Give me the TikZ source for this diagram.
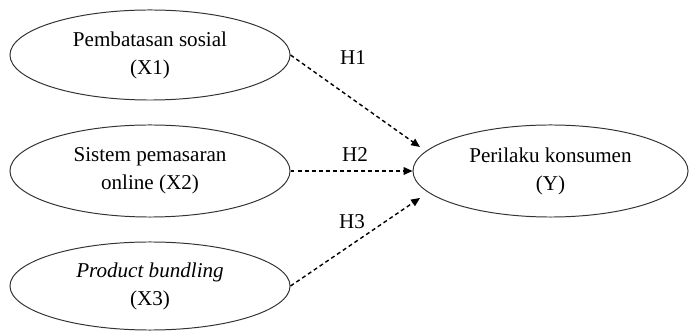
\documentclass[tikz,border=0pt]{standalone}
\usepackage{fontspec}
\setmainfont{Liberation Serif}
\usetikzlibrary{arrows.meta,positioning,shapes.geometric}

\begin{document}
\begin{tikzpicture}[
        x=0.025cm, y=-0.025cm,
        font=\fontsize{15}{20}\selectfont,
        var/.style={ellipse, draw=black!80, line width=0.7pt, minimum width=7cm, minimum height=2.25cm, align=center, inner sep=0pt},
        arr/.style={-{Triangle[length=2.2mm, width=1.9mm]}, line width=1pt, dash pattern=on 2.8pt off 2.2pt},
        lbl/.style={inner sep=1pt},
    ]
    \useasboundingbox (0,0) rectangle (689,333);
    \node[var] (x1) at (150,55) {Pembatasan sosial\\(X1)};
    \node[var, minimum height=2.3cm] (x2) at (150,171) {Sistem pemasaran\\online (X2)};
    \node[var, minimum height=2.2cm] (x3) at (150,286) {\textit{Product bundling}\\(X3)};
    \node[var, minimum width=6.875cm, minimum height=2.3cm] (y) at (550.5,171) {Perilaku konsumen\\(Y)};

    \coordinate (t1) at (420,147);
    \coordinate (t3) at (420,198);

    \node[lbl] (h1) at (353,58) {H1};
    \node[lbl] (h2) at (355,155) {H2};
    \node[lbl] (h3) at (352,222) {H3};

    \draw[arr] (x1.east) -- (t1);
    \draw[arr] (x2) -- (y);
    \draw[arr] (x3.east) -- (t3);
\end{tikzpicture}
\end{document}
